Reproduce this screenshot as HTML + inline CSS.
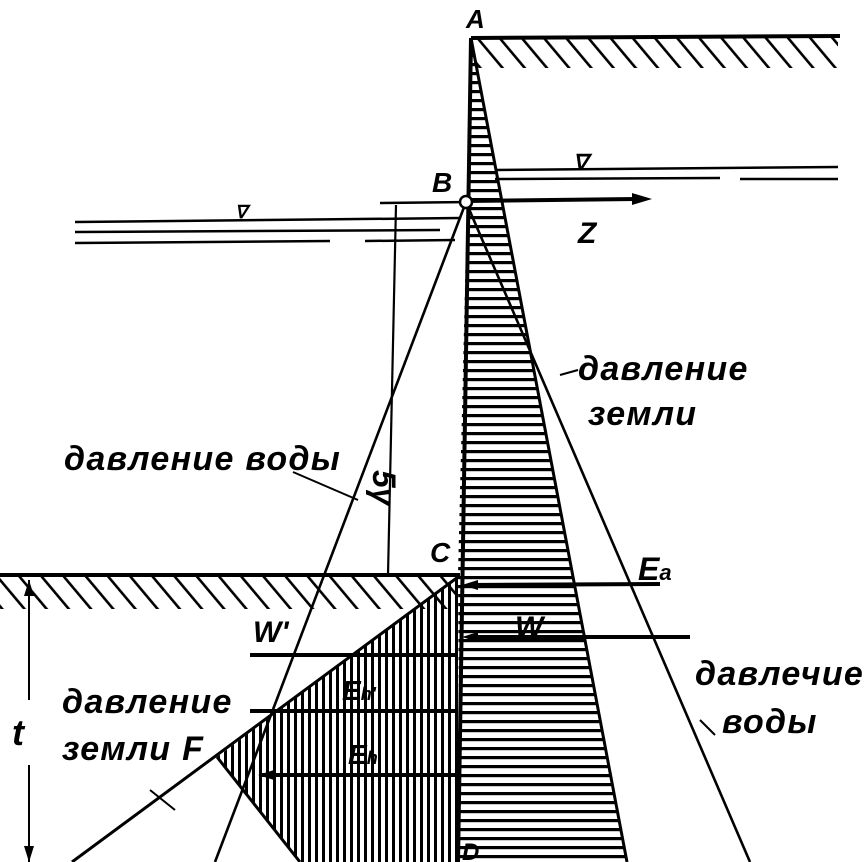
<!DOCTYPE html>
<html><head><meta charset="utf-8"><style>
html,body{margin:0;padding:0;background:#fff;}
svg{display:block;}
text{font-family:"Liberation Sans",sans-serif;font-style:italic;fill:#000;}
.lb{font-size:34px;font-weight:bold;letter-spacing:1.3px;}
</style></head><body>
<svg width="868" height="862" viewBox="0 0 868 862" xmlns="http://www.w3.org/2000/svg">
<defs>
<pattern id="hh" width="10" height="9" patternUnits="userSpaceOnUse"><rect x="0" y="0" width="10" height="3.2" fill="#000"/></pattern>
<pattern id="vh" width="7" height="10" patternUnits="userSpaceOnUse"><rect x="0" y="0" width="3" height="10" fill="#000"/></pattern>
<pattern id="dg" width="17" height="10" patternUnits="userSpaceOnUse" patternTransform="rotate(-40)"><rect x="0" y="0" width="2.6" height="10" fill="#000"/></pattern>
</defs>
<line x1="471" y1="38" x2="840" y2="36" stroke="#000" stroke-width="4"/>
<rect x="474" y="38" width="364" height="30" fill="url(#dg)"/>
<line x1="0" y1="575" x2="460" y2="575" stroke="#000" stroke-width="4"/>
<rect x="0" y="577" width="456" height="32" fill="url(#dg)"/>
<g stroke="#000" stroke-width="2.5">
<line x1="495" y1="170" x2="838" y2="167"/>
<line x1="495" y1="179" x2="720" y2="178"/><line x1="740" y1="179" x2="838" y2="179"/>
<line x1="75" y1="222" x2="460" y2="218"/>
<line x1="75" y1="232" x2="440" y2="230"/>
<line x1="75" y1="243" x2="330" y2="241"/><line x1="365" y1="241" x2="455" y2="240"/>
<line x1="380" y1="203" x2="470" y2="202"/>
</g>
<text x="573" y="170" font-size="22" font-style="normal" font-weight="bold">∇</text>
<text x="235" y="218" font-size="18" font-style="normal" font-weight="bold">∇</text>
<polygon points="471,40 627,862 460,862 458,575" fill="url(#hh)"/>
<line x1="471" y1="38" x2="458" y2="862" stroke="#000" stroke-width="4"/>
<line x1="471" y1="38" x2="627" y2="862" stroke="#000" stroke-width="3"/>
<polygon points="458,577 217,757 300,862 458,862" fill="url(#vh)"/>
<line x1="458" y1="577" x2="72" y2="862" stroke="#000" stroke-width="3"/>
<line x1="217" y1="757" x2="300" y2="862" stroke="#000" stroke-width="3"/>
<line x1="466" y1="202" x2="750" y2="862" stroke="#000" stroke-width="2.6"/>
<line x1="466" y1="202" x2="215" y2="862" stroke="#000" stroke-width="2.6"/>
<line x1="396" y1="205" x2="388" y2="575" stroke="#000" stroke-width="2.2"/>
<line x1="466" y1="201" x2="640" y2="199" stroke="#000" stroke-width="4"/>
<polygon points="652,199 632,193 632,205" fill="#000"/>
<circle cx="466" cy="202" r="6" fill="#fff" stroke="#000" stroke-width="2.5"/>
<g stroke="#000" stroke-width="4">
<line x1="470" y1="585" x2="660" y2="584"/>
<line x1="470" y1="637" x2="690" y2="637"/>
<line x1="250" y1="655" x2="458" y2="655"/>
<line x1="250" y1="711" x2="458" y2="711"/>
<line x1="262" y1="775" x2="458" y2="775"/>
</g>
<polygon points="462,585 478,580 478,590" fill="#000"/>
<polygon points="462,637 478,632 478,642" fill="#000"/>
<polygon points="258,775 274,770 274,780" fill="#000"/>
<line x1="29" y1="580" x2="29" y2="700" stroke="#000" stroke-width="2"/>
<line x1="29" y1="765" x2="29" y2="862" stroke="#000" stroke-width="2"/>
<polygon points="29,580 24,596 34,596" fill="#000"/>
<polygon points="29,862 24,846 34,846" fill="#000"/>
<g stroke="#000" stroke-width="2">
<line x1="293" y1="472" x2="358" y2="500"/>
<line x1="150" y1="790" x2="175" y2="810"/>
<line x1="560" y1="375" x2="578" y2="370"/>
<line x1="700" y1="720" x2="715" y2="735"/>
</g>
<text x="466" y="28" font-size="26" font-weight="bold">A</text>
<text x="432" y="192" font-size="28" font-weight="bold">B</text>
<text x="578" y="243" font-size="30" font-weight="bold">Z</text>
<text x="430" y="562" font-size="28" font-weight="bold">C</text>
<text x="638" y="580" font-size="32" font-weight="bold">E<tspan font-size="22">a</tspan></text>
<text x="515" y="637" font-size="30" font-weight="bold">W</text>
<text x="253" y="642" font-size="30" font-weight="bold">W'</text>
<text x="342" y="700" font-size="28" font-weight="bold">E<tspan font-size="18">h'</tspan></text>
<text x="348" y="764" font-size="28" font-weight="bold">E<tspan font-size="18">h</tspan></text>
<text x="462" y="860" font-size="24" font-weight="bold">D</text>
<text x="12" y="745" font-size="36" font-weight="bold">t</text>
<text x="0" y="0" font-size="32" font-weight="bold" transform="translate(373,470) rotate(90)">5γ</text>
<text x="64" y="470" class="lb">давление воды</text>
<text x="578" y="380" class="lb">давление</text>
<text x="588" y="425" class="lb">земли</text>
<text x="695" y="685" class="lb">давлечие</text>
<text x="722" y="733" class="lb">воды</text>
<text x="62" y="713" class="lb">давление</text>
<text x="62" y="760" class="lb">земли F</text>
</svg>
</body></html>
